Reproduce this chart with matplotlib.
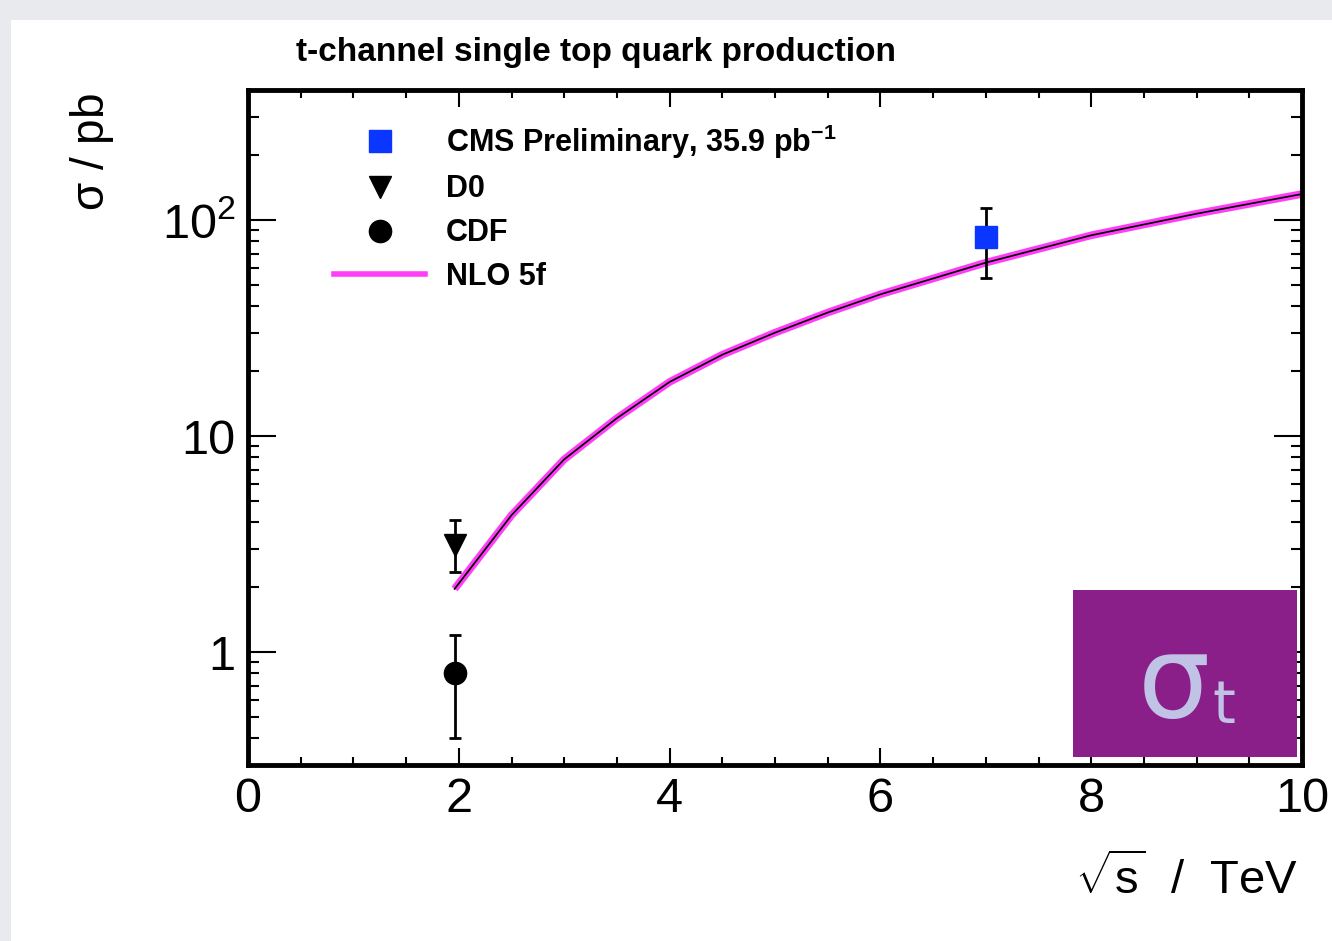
import matplotlib
matplotlib.use("Agg")
import matplotlib.pyplot as plt
from matplotlib.lines import Line2D
from matplotlib.patches import Rectangle
from matplotlib.ticker import FixedLocator, FixedFormatter, LogLocator, NullFormatter, MultipleLocator

plt.rcParams['font.family'] = ['Liberation Sans', 'DejaVu Sans']
plt.rcParams['mathtext.fontset'] = 'custom'
plt.rcParams['mathtext.rm'] = 'Liberation Sans'
plt.rcParams['mathtext.it'] = 'Liberation Sans:italic'
plt.rcParams['mathtext.bf'] = 'Liberation Sans:bold'

# NLO 5-flavour prediction vs centre-of-mass energy
nlo_sqrt_s = [1.96, 2.5, 3.0, 3.5, 4.0, 4.5, 5.0, 5.5, 6.0, 7.0, 8.0, 9.0, 10.0]
nlo_xsec = [1.96, 4.3, 7.8, 12.1, 17.8, 23.8, 30.1, 37.3, 45.3, 63.5, 85.0, 107.0, 132.0]

# measurements (pb)
cms_sqrt_s = [7.0]
cms_xsec = [83.6]
cms_err = [29.8]

d0_sqrt_s = [1.96]
d0_xsec = [3.14]
d0_err_lo = [0.80]
d0_err_hi = [0.94]

cdf_sqrt_s = [1.96]
cdf_xsec = [0.8]
cdf_err = [0.4]

legend_labels = [r'CMS Preliminary, 35.9 pb$^{\mathbf{-1}}$', 'D0', 'CDF', 'NLO 5f']

x_ticks = [0, 2, 4, 6, 8, 10]
y_ticks = [1, 10, 100]
y_tick_labels = ['1', '10', r'$\mathregular{10^2}$']

pink = '#ff3cf8'
blue = '#0a36ff'

fig = plt.figure(figsize=(13.32, 9.41), dpi=100)
fig.patch.set_facecolor('#e8eaee')
fig.patches.append(Rectangle((11 / 1332, 0), 1, 1 - 20 / 941, transform=fig.transFigure,
                             facecolor='white', edgecolor='none', zorder=-10))

ax = fig.add_axes([248 / 1332, 1 - 765 / 941, (1302 - 248) / 1332, (765 - 90) / 941])
ax.set_facecolor('none')
ax.set_yscale('log')
ax.set_xlim(0, 10)
ax.set_ylim(0.3, 400)

# theory curve: pink band with black central line
ax.plot(nlo_sqrt_s, nlo_xsec, color=pink, lw=5.5, solid_capstyle='butt', zorder=2)
ax.plot(nlo_sqrt_s, nlo_xsec, color='black', lw=1.2, zorder=3)

eb = dict(ecolor='black', elinewidth=2, capsize=4, capthick=2, linestyle='none', zorder=4)
ax.errorbar(cdf_sqrt_s, cdf_xsec, yerr=cdf_err, marker='o', ms=16, color='black', **eb)
ax.errorbar(d0_sqrt_s, d0_xsec, yerr=[d0_err_lo, d0_err_hi], marker='v', ms=16, color='black', **eb)
ax.errorbar(cms_sqrt_s, cms_xsec, yerr=cms_err, marker='s', ms=16, color=blue,
            markeredgecolor=blue, **eb)

for s in ax.spines.values():
    s.set_linewidth(3.5)

ax.xaxis.set_major_locator(FixedLocator(x_ticks))
ax.xaxis.set_minor_locator(MultipleLocator(0.5))
ax.yaxis.set_major_locator(FixedLocator(y_ticks))
ax.yaxis.set_major_formatter(FixedFormatter(y_tick_labels))
ax.yaxis.set_minor_locator(LogLocator(base=10, subs=range(2, 10)))
ax.yaxis.set_minor_formatter(NullFormatter())

ax.tick_params(which='both', direction='in', top=True, right=True, width=1.5)
ax.tick_params(axis='x', which='major', length=12, labelsize=35, pad=9)
ax.tick_params(axis='x', which='minor', length=6)
ax.tick_params(axis='y', which='major', length=20, labelsize=35, pad=9)
ax.tick_params(axis='y', which='minor', length=8)

handles = [
    Line2D([], [], marker='s', ms=16, color=blue, linestyle='none'),
    Line2D([], [], marker='v', ms=16, color='black', linestyle='none'),
    Line2D([], [], marker='o', ms=16, color='black', linestyle='none'),
    Line2D([], [], color=pink, lw=4),
]
ax.legend(handles, legend_labels, loc='upper left', bbox_to_anchor=(0.0816, 0.952),
          frameon=False, borderpad=0, borderaxespad=0, handlelength=2.98,
          handletextpad=0.69, labelspacing=0.45, prop={'weight': 'bold', 'size': 22})

fig.text(296 / 1332, 1 - 53 / 941, 't-channel single top quark production',
         fontsize=24, fontweight='bold', ha='left', va='center')
fig.text(92 / 1332, 1 - 152 / 941, r'$\mathregular{\sigma}$ / pb', rotation=90,
         fontsize=33, ha='center', va='center')
fig.text(1298 / 1332, 1 - 880 / 941, r'$\mathregular{\sqrt{s}}$  /  TeV',
         fontsize=34, ha='right', va='center')

# sigma_t badge in the lower right corner
fig.patches.append(Rectangle((1073 / 1332, 1 - 757 / 941), 224 / 1332, 167 / 941,
                             transform=fig.transFigure, facecolor='#8b1f8a',
                             edgecolor='none', zorder=5))
fig.text(1138 / 1332, 1 - 717 / 941, 'σ', family='DejaVu Sans', fontsize=82,
         color='#c0c3e6', ha='left', va='baseline', zorder=6)
fig.text(1212 / 1332, 1 - 723 / 941, 't', family='DejaVu Sans', fontsize=42,
         color='#c0c3e6', ha='left', va='baseline', zorder=6)

fig.savefig('out.png', dpi=100, facecolor=fig.get_facecolor())
